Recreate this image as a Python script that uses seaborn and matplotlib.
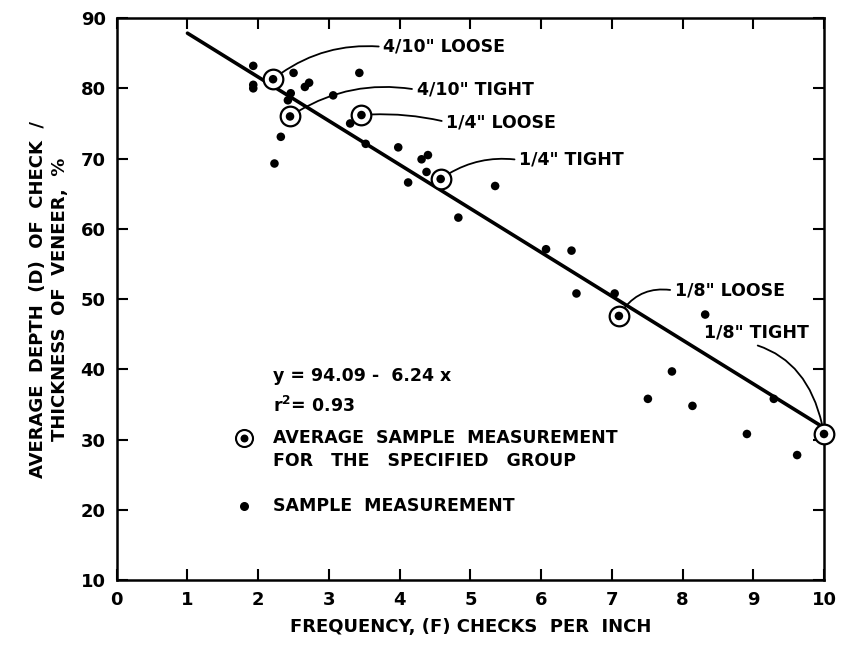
import matplotlib
matplotlib.use("Agg")
import matplotlib.pyplot as plt
import seaborn as sns
import numpy as np
import pandas as pd

# ---- data ----
sample_x = [1.93, 1.93, 1.93, 2.50, 2.66, 2.72, 2.46, 2.42, 3.06, 3.43, 3.30,
            2.32, 2.23, 3.52, 3.98, 4.31, 4.40, 4.38, 4.12, 5.35, 4.83, 6.07,
            6.43, 6.50, 7.04, 8.32, 7.85, 7.51, 8.14, 9.29, 8.91, 9.62]
sample_y = [83.2, 80.5, 80.0, 82.2, 80.2, 80.8, 79.3, 78.3, 79.0, 82.2, 75.0,
            73.1, 69.3, 72.1, 71.6, 69.9, 70.5, 68.1, 66.6, 66.1, 61.6, 57.1,
            56.9, 50.8, 50.8, 47.8, 39.7, 35.8, 34.8, 35.8, 30.8, 27.8]

avg_labels = ['4/10" LOOSE', '4/10" TIGHT', '1/4" LOOSE', '1/4" TIGHT',
              '1/8" LOOSE', '1/8" TIGHT']
avg_x = [2.21, 2.45, 3.46, 4.58, 7.10, 10.0]
avg_y = [81.3, 76.0, 76.2, 67.1, 47.6, 30.8]

intercept = 94.09
slope = -6.24
fit_x = [1.0, 10.0]

x_ticks = [0, 1, 2, 3, 4, 5, 6, 7, 8, 9, 10]
y_ticks = [10, 20, 30, 40, 50, 60, 70, 80, 90]

# ---- figure ----
sns.set_theme(style="white")
plt.rcParams['font.family'] = ['DejaVu Sans']
plt.rcParams['font.weight'] = 'bold'
plt.rcParams['text.color'] = 'black'
plt.rcParams['axes.labelcolor'] = 'black'
plt.rcParams['xtick.color'] = 'black'
plt.rcParams['ytick.color'] = 'black'

fig = plt.figure(figsize=(8.46, 6.46), dpi=100)
ax = fig.add_axes([0.138, 0.102, 0.836, 0.870])

samples = pd.DataFrame({"x": sample_x, "y": sample_y})
avgs = pd.DataFrame({"x": avg_x, "y": avg_y, "label": avg_labels})
fit = pd.DataFrame({"x": fit_x, "y": [intercept + slope * v for v in fit_x]})

sns.lineplot(data=fit, x="x", y="y", ax=ax, color="black", lw=2.6)
sns.scatterplot(data=samples, x="x", y="y", ax=ax, color="black", s=38,
                edgecolor="none", zorder=3)
sns.scatterplot(data=avgs, x="x", y="y", ax=ax, s=200, facecolor="white",
                edgecolor="black", linewidth=1.6, zorder=4, clip_on=False)
sns.scatterplot(data=avgs, x="x", y="y", ax=ax, color="black", s=38,
                edgecolor="none", zorder=5, clip_on=False)

# annotations
text_pos = [(3.77, 85.9), (4.24, 79.8), (4.66, 75.2), (5.69, 69.8),
            (7.89, 51.2), (8.30, 45.2)]
rads = [0.2, 0.2, 0.08, 0.2, 0.35, -0.45]
relpos = [(0, 0.5), (0, 0.5), (0, 0.5), (0, 0.5), (0, 0.5), (0, 0.1)]
for lab, x, y, tp, r, rp in zip(avg_labels, avg_x, avg_y, text_pos, rads, relpos):
    ax.annotate(lab, xy=(x, y), xytext=tp, ha="left", va="center",
                fontsize=12.5, fontweight="bold", color="black",
                arrowprops=dict(arrowstyle="-", color="black", lw=1.3,
                                connectionstyle=f"arc3,rad={r}",
                                relpos=rp, shrinkA=1, shrinkB=7))

# equation and legend text
ax.text(2.21, 39.0, "y = 94.09 -  6.24 x", fontsize=12.5, fontweight="bold",
        va="center", ha="left")
ax.text(2.21, 34.8, r"r$^{\mathbf{2}}$= 0.93", fontsize=12.5, fontweight="bold",
        va="center", ha="left")
ax.scatter([1.80], [30.2], s=150, facecolor="white", edgecolor="black",
           linewidth=1.5, zorder=4)
ax.scatter([1.80], [30.2], s=22, color="black", zorder=5)
ax.text(2.21, 30.2, "AVERAGE  SAMPLE  MEASUREMENT", fontsize=12.5,
        fontweight="bold", va="center", ha="left")
ax.text(2.21, 26.9, "FOR   THE   SPECIFIED   GROUP", fontsize=12.5,
        fontweight="bold", va="center", ha="left")
ax.scatter([1.80], [20.6], s=30, color="black", zorder=5)
ax.text(2.21, 20.6, "SAMPLE  MEASUREMENT", fontsize=12.5,
        fontweight="bold", va="center", ha="left")

# axes styling
ax.set_xlim(0, 10)
ax.set_ylim(10, 90)
ax.set_xticks(x_ticks)
ax.set_yticks(y_ticks)
ax.set_xticklabels([str(t) for t in x_ticks], fontsize=13, fontweight="bold")
ax.set_yticklabels([str(t) for t in y_ticks], fontsize=13, fontweight="bold")
ax.tick_params(direction="in", length=8, width=1.5, color="black",
               labelcolor="black",
               top=True, right=True, bottom=True, left=True,
               labeltop=False, labelright=False, pad=8)
for sp in ax.spines.values():
    sp.set_visible(True)
    sp.set_color("black")
    sp.set_linewidth(1.8)
ax.grid(False)

ax.set_xlabel("FREQUENCY, (F) CHECKS  PER  INCH", fontsize=13,
              fontweight="bold", labelpad=6, color="black")
ax.set_ylabel("AVERAGE  DEPTH  (D)  OF  CHECK  /\nTHICKNESS  OF  VENEER,  %",
              fontsize=13, fontweight="bold", labelpad=8, linespacing=1.3,
              color="black")

fig.savefig("out.png", dpi=100)
